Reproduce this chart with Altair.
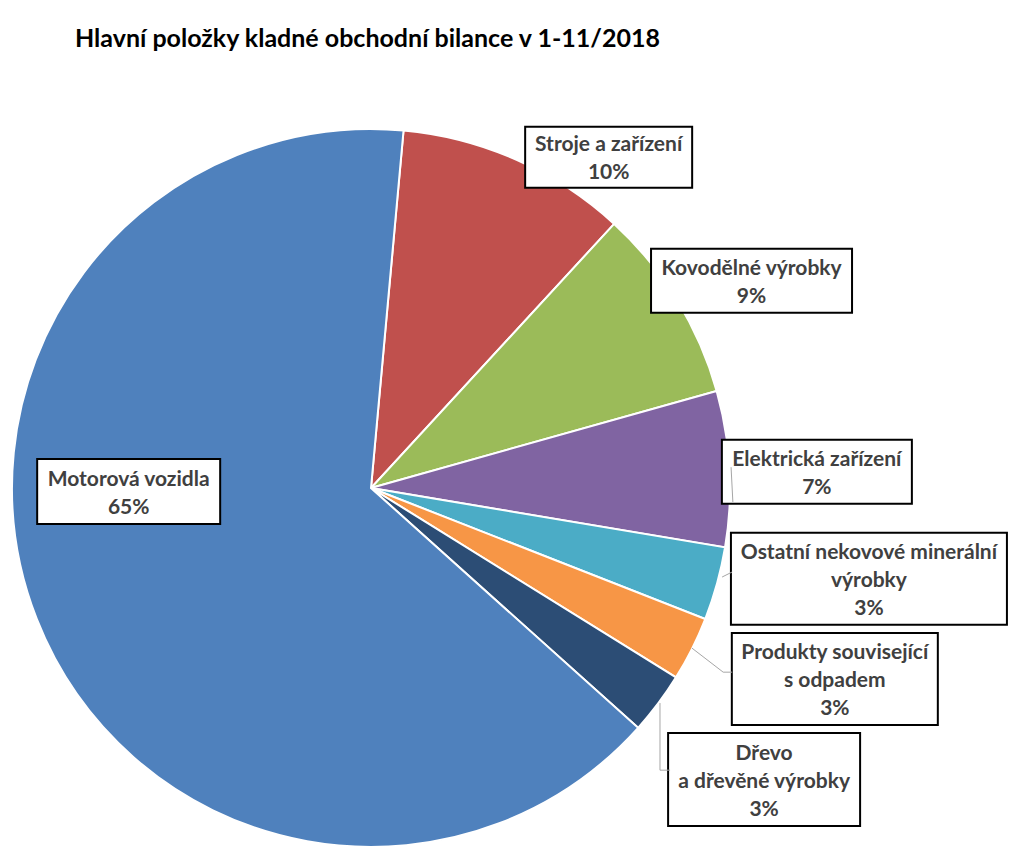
import math
import altair as alt
import pandas as pd

# ---- data ----
categories = [
    "Stroje a zařízení",
    "Kovodělné výrobky",
    "Elektrická zařízení",
    "Ostatní nekovové minerální výrobky",
    "Produkty související s odpadem",
    "Dřevo a dřevěné výrobky",
    "Motorová vozidla",
]
values = [10.4, 8.8, 7.0, 3.3, 2.9, 2.8, 64.8]
label_lines = [
    ["Stroje a zařízení"],
    ["Kovodělné výrobky"],
    ["Elektrická zařízení"],
    ["Ostatní nekovové minerální", "výrobky"],
    ["Produkty související", "s odpadem"],
    ["Dřevo", "a dřevěné výrobky"],
    ["Motorová vozidla"],
]
colors = ["#C0504D", "#9BBB59", "#8064A2", "#4BACC6", "#F79646", "#2C4D75", "#4F81BD"]
title = "Hlavní položky kladné obchodní bilance v 1-11/2018"

# ---- layout (relative to pie centre, in units of the radius, y up) ----
START_DEG = 5.2
LINE_H = 28
label_center = [(0.662, 0.921), (1.060, 0.577), (1.242, 0.045), (1.387, -0.253),
                (1.292, -0.532), (1.095, -0.812), (-0.675, -0.010)]
box_px = [(167, 61), (201, 64), (190, 64), (276, 92), (206, 92), (192, 93), (183, 65)]
leaders = [  # (label index, list of points)
    (2, [(1.003, 0.058), (1.008, -0.039)]),
    (3, [(0.978, -0.248), (1.006, -0.234)]),
    (4, [(0.894, -0.446), (0.981, -0.513), (1.006, -0.513)]),
    (5, [(0.805, -0.599), (0.805, -0.786), (0.833, -0.786)]),
]

R = 359
W = H = 2 * R
total = sum(values)

pie_df = pd.DataFrame({"cat": categories, "value": values, "order": list(range(len(values)))})

start = math.radians(START_DEG)
pie = alt.Chart(pie_df).mark_arc(stroke="white", strokeWidth=2).encode(
    theta=alt.Theta("value:Q", stack=True,
                    scale=alt.Scale(domain=[0, total], range=[start, start + 2 * math.pi])),
    order=alt.Order("order:Q"),
    color=alt.Color("cat:N", scale=alt.Scale(domain=categories, range=colors), legend=None),
)

rows = []
for i, (cat, v) in enumerate(zip(categories, values)):
    cx, cy = label_center[i]
    bw, bh = box_px[i]
    lines_i = label_lines[i] + [f"{round(v)}%"]
    n = len(lines_i)
    rows.append({
        "cat": cat, "text": "\n".join(lines_i), "cx": cx,
        "ty": cy + (n - 1) * LINE_H / 2 / R - 2 / R,
        "x1": cx - bw / 2 / R, "x2": cx + bw / 2 / R,
        "y1": cy - bh / 2 / R, "y2": cy + bh / 2 / R,
    })
lab_df = pd.DataFrame(rows)

xs = alt.Scale(domain=[-1, 1])
ys = alt.Scale(domain=[-1, 1])

boxes = alt.Chart(lab_df).mark_rect(fill="white", stroke="black", strokeWidth=2).encode(
    x=alt.X("x1:Q", scale=xs, axis=None), x2="x2:Q",
    y=alt.Y("y1:Q", scale=ys, axis=None), y2="y2:Q",
)

texts = alt.Chart(lab_df).mark_text(
    font="Lato", fontSize=21, fontWeight="bold", color="#404040",
    lineBreak="\n", lineHeight=LINE_H, align="center", baseline="middle",
).encode(
    x=alt.X("cx:Q", scale=xs, axis=None),
    y=alt.Y("ty:Q", scale=ys, axis=None),
    text="text:N",
)

lrows = []
for li, pts in leaders:
    for k, (px, py) in enumerate(pts):
        lrows.append({"seg": li, "k": k, "lx": px, "ly": py})
lead_df = pd.DataFrame(lrows)

lines = alt.Chart(lead_df).mark_line(color="#A6A6A6", strokeWidth=1).encode(
    x=alt.X("lx:Q", scale=xs, axis=None),
    y=alt.Y("ly:Q", scale=ys, axis=None),
    detail="seg:N",
    order="k:Q",
)

chart = alt.layer(pie, boxes, lines, texts).properties(
    width=W, height=H,
    background="white",
    title=alt.TitleParams(title, font="Lato", fontSize=25, fontWeight="bold", color="black",
                          anchor="start", frame="group", dx=63, offset=73),
    autosize=alt.AutoSizeParams(type="none"),
    padding={"left": 12, "top": 129, "right": 1024 - 12 - W, "bottom": 862 - 129 - H},
).configure_view(stroke=None, strokeWidth=0)

chart.save("out.html", embed_options={"renderer": "svg", "actions": False})
